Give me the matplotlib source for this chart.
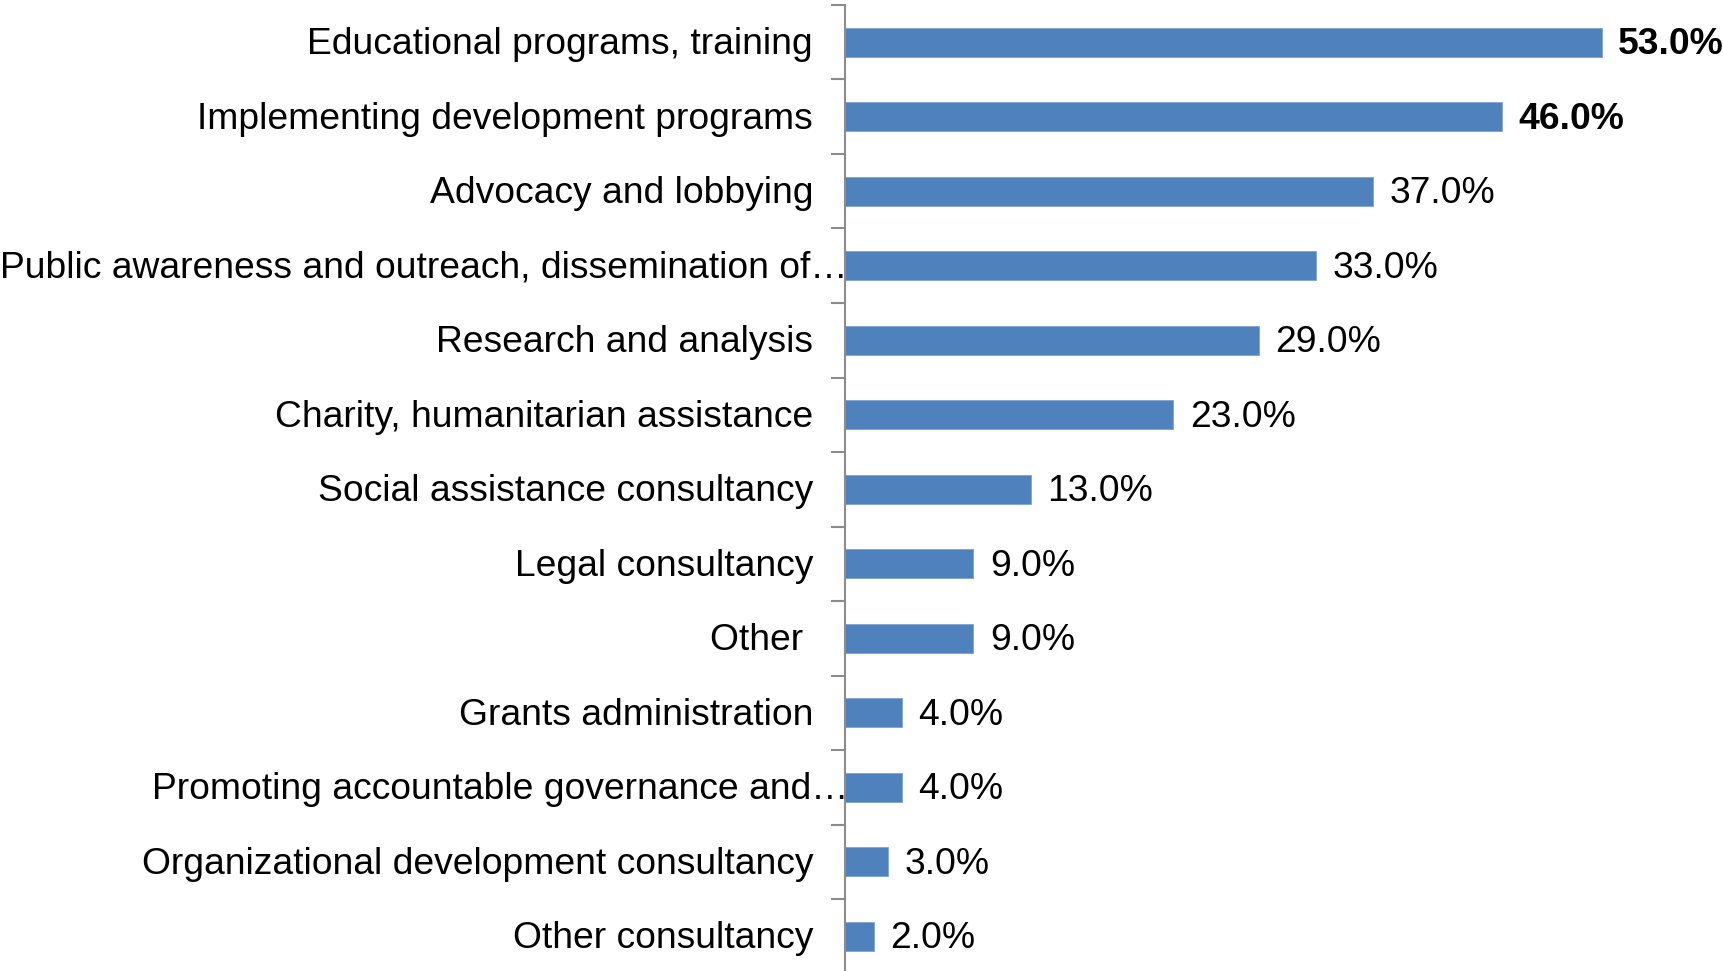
import numpy as np
import matplotlib
matplotlib.use("Agg")
import matplotlib.pyplot as plt
from matplotlib.transforms import offset_copy

plt.rcParams['font.family'] = ['Liberation Sans', 'DejaVu Sans']

categories = [
    "Educational programs, training",
    "Implementing development programs",
    "Advocacy and lobbying",
    "Public awareness and outreach, dissemination of\u2026",
    "Research and analysis",
    "Charity, humanitarian assistance",
    "Social assistance consultancy",
    "Legal consultancy",
    "Other ",
    "Grants administration",
    "Promoting accountable governance and\u2026",
    "Organizational development consultancy",
    "Other consultancy",
]
values = [53.0, 46.0, 37.0, 33.0, 29.0, 23.0, 13.0, 9.0, 9.0, 4.0, 4.0, 3.0, 2.0]
bold_labels = [True, True] + [False] * 11
truncated = [c.endswith("\u2026") for c in categories]

W, H = 1723, 971
fig = plt.figure(figsize=(W / 100, H / 100), dpi=100)
ax = fig.add_axes([845 / W, 1 - 973.5 / H, 1 - 845 / W, 968.5 / H])

y = np.arange(len(categories))
ax.barh(y, values, height=0.39, color="#4F81BD", edgecolor="#7FA3D2", linewidth=0.6)

ax.set_xlim(0, 61.5)
ax.set_ylim(len(categories) - 0.5, -0.5)

# category boundary ticks on the left spine
ax.set_yticks(np.arange(-0.5, len(categories) + 0.5, 1.0))
ax.set_yticklabels([])
ax.tick_params(axis="y", direction="out", length=10, width=1.5, color="#8C8C8C")
ax.set_xticks([])
for side in ("top", "right", "bottom"):
    ax.spines[side].set_visible(False)
ax.spines["left"].set_color("#8C8C8C")
ax.spines["left"].set_linewidth(1.5)

fs = 26.8
ytrans = ax.get_yaxis_transform()
for yi, (cat, trunc) in enumerate(zip(categories, truncated)):
    dx = 3 if trunc else -32
    tr = offset_copy(ytrans, fig=fig, x=dx, y=-2.5, units="dots")
    ax.text(0, yi, cat, transform=tr, ha="right", va="center", fontsize=fs,
            color="black", clip_on=False)

for yi, (v, b) in enumerate(zip(values, bold_labels)):
    tr = offset_copy(ax.transData, fig=fig, x=16.5, y=-2.5, units="dots")
    ax.text(v, yi, f"{v:.1f}%", transform=tr, ha="left", va="center", fontsize=fs,
            fontweight="bold" if b else "normal", color="black", clip_on=False)

fig.savefig("out.png", dpi=100)
